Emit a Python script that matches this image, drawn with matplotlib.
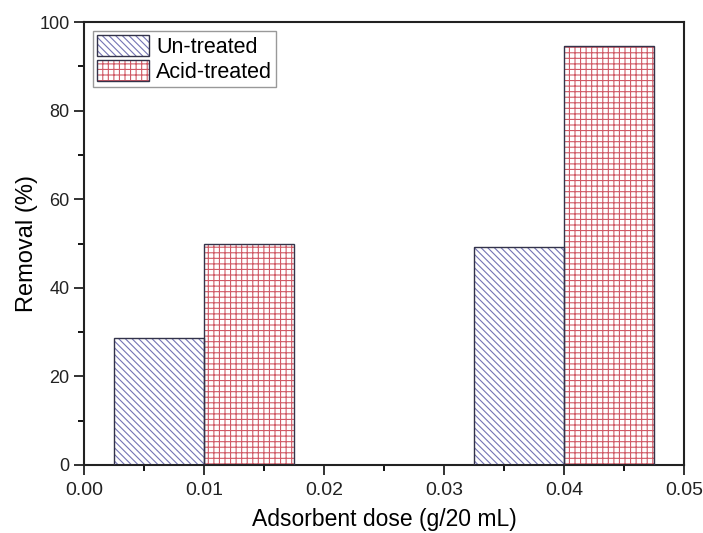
import numpy as np
import matplotlib
matplotlib.use("Agg")
import matplotlib.pyplot as plt
from matplotlib.ticker import MultipleLocator, FormatStrFormatter
from matplotlib.patches import Patch

# data
dose = np.array([0.01, 0.04])
untreated = np.array([28.7, 49.2])
acid_treated = np.array([50.0, 94.5])
labels = ['Un-treated', 'Acid-treated']

plt.rcParams['font.family'] = ['Liberation Sans', 'DejaVu Sans']
plt.rcParams['hatch.linewidth'] = 0.8

fig = plt.figure(figsize=(7.03, 5.33), dpi=100)
ax = fig.add_axes([0.1195, 0.1276, 0.8535, 0.8311])

w = 0.0075
blue = '#7474b4'
red = '#d05a66'
edge = '#33334a'

# hatch layer (edgecolor drives hatch colour), then dark outline on top
ax.bar(dose - w / 2, untreated, w, color='white', edgecolor=blue,
       hatch='\\\\\\\\\\', linewidth=0, zorder=2)
ax.bar(dose + w / 2, acid_treated, w, color='white', edgecolor=red,
       hatch='+++', linewidth=0, zorder=2)
ax.bar(dose - w / 2, untreated, w, fill=False, edgecolor=edge,
       linewidth=1.0, zorder=3)
ax.bar(dose + w / 2, acid_treated, w, fill=False, edgecolor=edge,
       linewidth=1.0, zorder=3)

# legend handles built the same way
h1 = Patch(facecolor='white', edgecolor=blue, hatch='\\\\\\\\\\', linewidth=0)
h2 = Patch(facecolor='white', edgecolor=red, hatch='+++', linewidth=0)
o1 = Patch(fill=False, edgecolor=edge, linewidth=1.0)
leg = ax.legend([(h1, o1), (h2, o1)], labels, loc='upper left',
                fontsize=15.5, fancybox=False, edgecolor='#999999',
                handlelength=2.4, handleheight=1.15, handletextpad=0.35,
                borderpad=0.2, labelspacing=0.1, borderaxespad=0.4,
                framealpha=1)
leg.get_frame().set_linewidth(1.0)

ax.set_xlim(0, 0.05)
ax.set_ylim(0, 100)
ax.xaxis.set_major_locator(MultipleLocator(0.01))
ax.xaxis.set_minor_locator(MultipleLocator(0.005))
ax.xaxis.set_major_formatter(FormatStrFormatter('%.2f'))
ax.yaxis.set_major_locator(MultipleLocator(20))
ax.yaxis.set_minor_locator(MultipleLocator(10))

ax.tick_params(which='major', direction='out', length=7, width=1.3,
               colors='#222222')
ax.tick_params(which='minor', direction='out', length=4, width=1.3)
ax.tick_params(axis='x', labelsize=14, pad=5)
ax.tick_params(axis='y', labelsize=13)
for s in ax.spines.values():
    s.set_linewidth(1.5)
    s.set_color('#222222')

ax.set_xlabel('Adsorbent dose (g/20 mL)', fontsize=16.5, labelpad=7)
ax.set_ylabel('Removal (%)', fontsize=17, labelpad=1)

fig.savefig('out.png', dpi=100)
